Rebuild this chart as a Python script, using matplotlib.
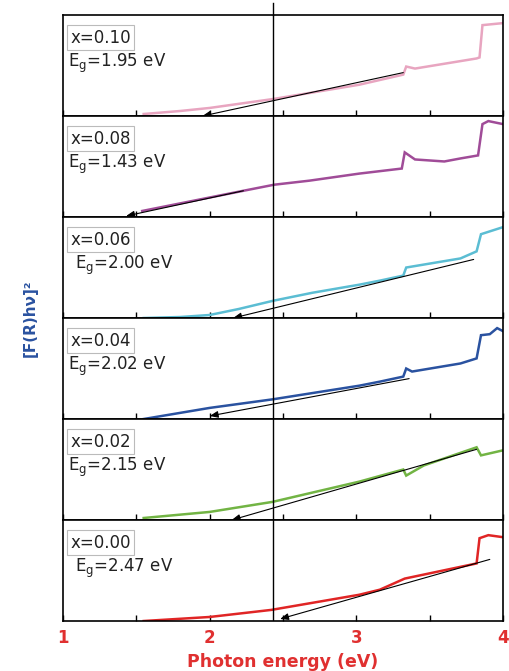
#Importing matplotlib for plotting and numpy for the arrays
import numpy as np
import matplotlib.pyplot as plt
from matplotlib.lines import Line2D
from matplotlib.transforms import blended_transform_factory

#Sample labels and band gaps, top panel first
samples = ["x=0.10", "x=0.08", "x=0.06", "x=0.04", "x=0.02", "x=0.00"]
band_gaps = ["1.95", "1.43", "2.00", "2.02", "2.15", "2.47"]
colors = ["#E8A5C0", "#A04C98", "#5BBDD3", "#2A52A0", "#72B444", "#E02525"]

#Photon energy (eV) and normalised [F(R)hv]^2
E10 = [1.55, 1.80, 2.00, 2.44, 3.02, 3.32, 3.34, 3.40, 3.82, 3.84, 3.86, 4.00]
F10 = [0.02, 0.05, 0.08, 0.17, 0.31, 0.41, 0.49, 0.47, 0.57, 0.58, 0.90, 0.92]
E08 = [1.54, 2.23, 2.44, 2.68, 3.02, 3.31, 3.33, 3.40, 3.60, 3.71, 3.83, 3.86, 3.90, 4.00]
F08 = [0.06, 0.26, 0.32, 0.36, 0.43, 0.48, 0.64, 0.57, 0.55, 0.58, 0.61, 0.92, 0.95, 0.92]
E06 = [1.55, 1.80, 2.00, 2.20, 2.43, 2.70, 3.02, 3.16, 3.32, 3.34, 3.71, 3.82, 3.85, 4.00]
F06 = [0.00, 0.01, 0.03, 0.09, 0.17, 0.25, 0.33, 0.37, 0.42, 0.50, 0.59, 0.66, 0.83, 0.90]
E04 = [1.55, 2.00, 2.43, 3.02, 3.16, 3.32, 3.34, 3.38, 3.71, 3.82, 3.85, 3.91, 3.96, 4.00]
F04 = [0.00, 0.11, 0.195, 0.33, 0.37, 0.42, 0.50, 0.47, 0.55, 0.60, 0.83, 0.84, 0.90, 0.87]
E02 = [1.55, 2.00, 2.43, 3.02, 3.32, 3.34, 3.46, 3.82, 3.85, 4.00]
F02 = [0.02, 0.08, 0.18, 0.38, 0.50, 0.44, 0.54, 0.72, 0.64, 0.69]
E00 = [1.55, 2.00, 2.42, 2.82, 3.02, 3.16, 3.33, 3.82, 3.84, 3.90, 4.00]
F00 = [0.00, 0.04, 0.11, 0.21, 0.26, 0.31, 0.42, 0.57, 0.82, 0.85, 0.83]
energies = [E10, E08, E06, E04, E02, E00]
signals = [F10, F08, F06, F04, F02, F00]

#Tangent lines: (start x, start y) at the arrow head and (end x, end y)
fit_start = [(1.95, 0.00), (1.43, 0.01), (2.16, 0.00), (2.00, 0.03), (2.15, 0.00), (2.48, 0.02)]
fit_end = [(3.32, 0.43), (2.23, 0.26), (3.80, 0.58), (3.36, 0.40), (3.82, 0.70), (3.91, 0.61)]
eg_indent = [0, 0, 1, 0, 0, 1]

ref_energy = 2.435

fig, axes = plt.subplots(6, 1, figsize=(5.09, 6.71), dpi=100, sharex=True)
fig.subplots_adjust(left=0.1238, right=0.9882, top=0.9776, bottom=0.0745, hspace=0)

for i, ax in enumerate(axes):
    ax.plot(energies[i], signals[i], color=colors[i], lw=1.8, solid_joinstyle="miter")
    #Tangent line with a small arrow head at the band gap end
    ax.annotate("", xy=fit_start[i], xytext=fit_end[i],
                arrowprops=dict(arrowstyle="-|>,head_length=0.5,head_width=0.2",
                                color="black", lw=0.8, shrinkA=0, shrinkB=0))
    ax.axvline(ref_energy, color="black", lw=1.0)
    ax.set_xlim(1, 4)
    ax.set_ylim(0, 1)
    ax.set_yticks([])
    ax.set_xticks([1, 1.5, 2, 2.5, 3, 3.5, 4])
    ax.tick_params(axis="x", direction="in", length=4, width=1, labelbottom=False)
    for s in ax.spines.values():
        s.set_linewidth(1.2)
    ax.text(0.017, 0.775, samples[i], transform=ax.transAxes, fontsize=12,
            color="#222222", va="center", ha="left",
            bbox=dict(boxstyle="square,pad=0.2", fc="white", ec="#BBBBBB", lw=0.8))
    ax.text(0.012 + 0.016 * eg_indent[i], 0.49, "E$_\\mathrm{g}$=" + band_gaps[i] + " eV",
            transform=ax.transAxes, fontsize=12, color="#222222", va="baseline", ha="left")

#The reference line sticks out a little above the top panel
trans = blended_transform_factory(axes[0].transData, fig.transFigure)
fig.add_artist(Line2D([ref_energy, ref_energy], [0.9776, 0.995], transform=trans,
                      color="black", lw=1.0))

bottom = axes[-1]
bottom.set_xticks([1, 1.5, 2, 2.5, 3, 3.5, 4])
bottom.set_xticklabels(["1", "", "2", "", "3", "", "4"])
bottom.tick_params(axis="x", labelbottom=True, labelsize=12, labelcolor="#E03030", pad=6)
for lab in bottom.get_xticklabels():
    lab.set_fontweight("bold")
bottom.set_xlabel("Photon energy (eV)", fontsize=12.5, fontweight="bold", color="#E03030", labelpad=4)

fig.text(0.059, 0.526, "[F(R)hν]²", rotation=90, fontsize=11, fontweight="bold",
         color="#2A52A0", ha="center", va="center")

plt.savefig("out.png", dpi=100)
